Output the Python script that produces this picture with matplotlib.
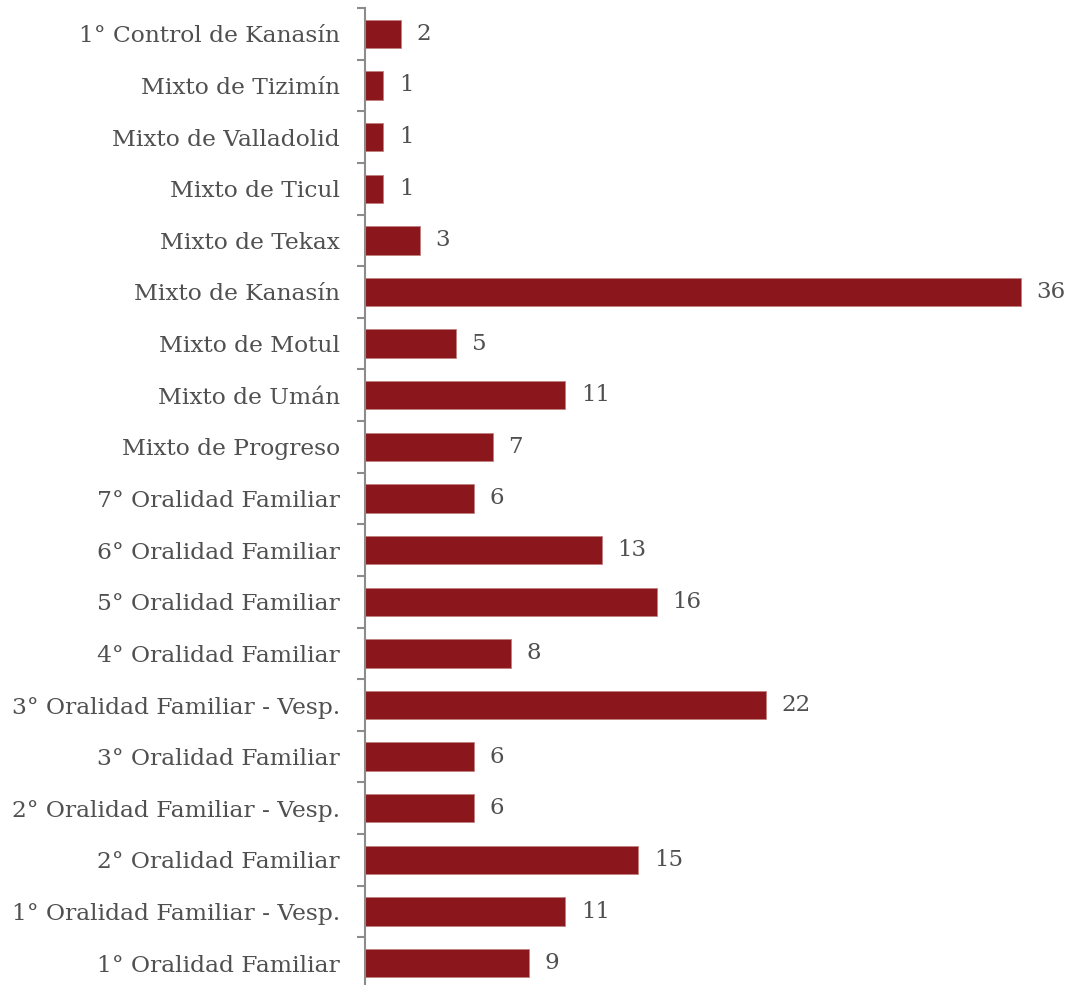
import matplotlib.pyplot as plt

categories = [
    "1° Control de Kanasín",
    "Mixto de Tizimín",
    "Mixto de Valladolid",
    "Mixto de Ticul",
    "Mixto de Tekax",
    "Mixto de Kanasín",
    "Mixto de Motul",
    "Mixto de Umán",
    "Mixto de Progreso",
    "7° Oralidad Familiar",
    "6° Oralidad Familiar",
    "5° Oralidad Familiar",
    "4° Oralidad Familiar",
    "3° Oralidad Familiar - Vesp.",
    "3° Oralidad Familiar",
    "2° Oralidad Familiar - Vesp.",
    "2° Oralidad Familiar",
    "1° Oralidad Familiar - Vesp.",
    "1° Oralidad Familiar",
]
values = [2, 1, 1, 1, 3, 36, 5, 11, 7, 6, 13, 16, 8, 22, 6, 6, 15, 11, 9]

bar_color = "#8B161B"
text_color = "#505050"
font = ["DejaVu Serif"]

fig = plt.figure(figsize=(10.72, 9.85), dpi=100)
ax = fig.add_axes([365 / 1072, -4 / 985, 707 / 1072, 981 / 985])

pos = list(range(len(categories)))
ax.barh(pos, values, height=0.55, color=bar_color, edgecolor="#C08080", linewidth=0.6)
for y, v in zip(pos, values):
    ax.text(v + 0.85, y, str(v), va="center", ha="left", fontsize=16.5,
            color=text_color, family=font)

ax.set_ylim(len(categories) - 0.5, -0.5)
ax.set_xlim(0, 38.8)
ax.set_yticks(pos)
ax.set_yticklabels(categories, fontsize=16.8, color=text_color, family=font)
ax.tick_params(axis="y", length=0, pad=18)
# small boundary ticks on the left of the axis
ax.set_yticks([p - 0.5 for p in pos] + [len(pos) - 0.5], minor=True)
ax.tick_params(axis="y", which="minor", length=6, width=1.5, color="#8C8C8C", direction="out")
ax.set_xticks([])
for s in ["top", "right", "bottom"]:
    ax.spines[s].set_visible(False)
ax.spines["left"].set_color("#8C8C8C")
ax.spines["left"].set_linewidth(1.5)

fig.savefig("out.png", dpi=100)
